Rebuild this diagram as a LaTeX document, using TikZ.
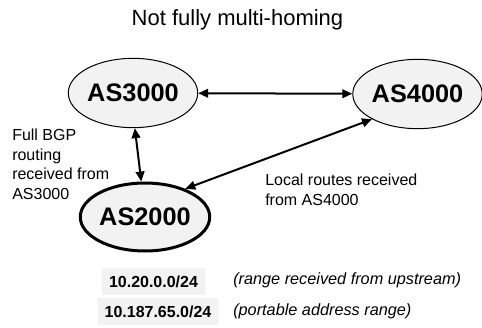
\documentclass[tikz,border=0pt]{standalone}
\usepackage{fontspec}
\setmainfont{Liberation Sans}
\usepackage{tikz}
\usetikzlibrary{shapes.geometric,arrows.meta}
\tikzset{
  asnode/.style={ellipse, draw=black, line width=0.75pt, fill=black!5, inner sep=0pt,
    minimum width=89pt, minimum height=52pt, font=\fontsize{19}{21}\selectfont\bfseries},
  asthick/.style={asnode, line width=2.25pt, minimum width=88pt, minimum height=51pt},
  peerlink/.style={line width=1.5pt, draw=black, {Triangle[length=7.5pt,width=6.5pt]}-{Triangle[length=7.5pt,width=6.5pt]}},
  pfxbox/.style={fill=black!5, rounded corners=1pt, inner xsep=5.5pt, minimum height=20pt,
    font=\fontsize{12}{14}\selectfont\bfseries},
  notetext/.style={anchor=west, inner sep=0pt, font=\fontsize{12.2}{14}\selectfont\itshape},
  labeltext/.style={anchor=north west, inner sep=0pt, align=left,
    font=\fontsize{12}{14.6}\selectfont},
}
\begin{document}
\begin{tikzpicture}[x=0.75pt,y=-0.75pt]
\useasboundingbox (0,0) rectangle (482,328);
\node[anchor=base, inner sep=0pt, font=\fontsize{16.5}{18}\selectfont] (title) at (237.5,26) {Not fully multi-homing};
\node[asnode] (as3000) at (133,93) {AS3000};
\node[asnode] (as4000) at (417.5,94) {AS4000};
\node[asthick] (as2000) at (145,217) {AS2000};
\draw[peerlink] (as3000) -- (as4000);
\draw[peerlink] (as3000.273) -- (as2000.96);
\draw[peerlink] (as2000.35) -- (as4000.209.5);
\node[labeltext] (fullbgp) at (12,129) {Full BGP\\routing\\received from\\AS3000};
\node[labeltext] (localrt) at (265,174) {Local routes received\\from AS4000};
\node[pfxbox] (pfxup) at (153.5,281.5) {10.20.0.0/24};
\node[pfxbox] (pfxport) at (158,311.5) {10.187.65.0/24};
\node[notetext] (noteup) at (233,280) {(range received from upstream)};
\node[notetext] (noteport) at (233,311) {(portable address range)};
\end{tikzpicture}
\end{document}
